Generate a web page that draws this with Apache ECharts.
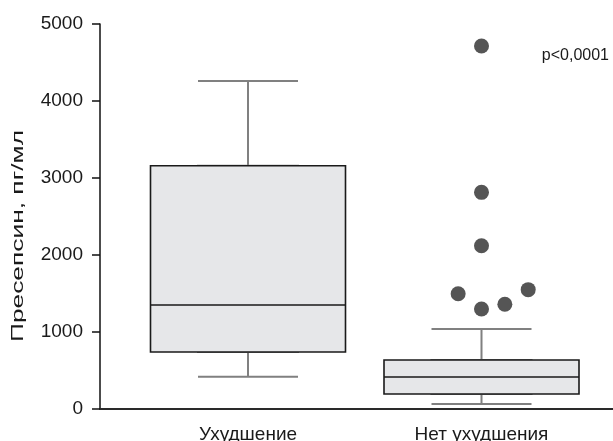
<!DOCTYPE html>
<html>
<head>
<meta charset="utf-8">
<script src="https://cdn.jsdelivr.net/npm/echarts@6/dist/echarts.min.js"></script>
<style>html,body{margin:0;padding:0;background:#fff}#c{width:613px;height:441px}</style>
</head>
<body>
<div id="c"></div>
<script>
// ---- data ----
const categories = ['Ухудшение', 'Нет ухудшения'];
// [min whisker, Q1, median, Q3, max whisker]
const boxWorse = [420, 740, 1350, 3160, 4260];
const boxNoWorse = [65, 195, 416, 636, 1040];
const outlierGroup = [1, 1, 1, 1, 1, 1, 1];
const outlierJitter = [0, 0, 0, -0.1, 0, 0.1, 0.2];
const outlierValues = [4714, 2814, 2121, 1497, 1299, 1360, 1550];
const yMin = 0, yMax = 5000, yStep = 1000;
const yAxisTitle = 'Пресепсин, пг/мл';
const pText = 'p<0,0001';

const FONT = '"Liberation Sans", Arial, Helvetica, sans-serif';
const boxStats = [boxWorse, boxNoWorse];
const boxCore = boxStats.map(b => [b[1], b[1], b[2], b[3], b[3]]);
const outliers = outlierValues.map((v, i) => [outlierGroup[i] + outlierJitter[i], v]);

const chart = echarts.init(document.getElementById('c'), null, {renderer: 'canvas'});
chart.setOption({
  animation: false,
  textStyle: {fontFamily: FONT},
  grid: [
    {left: 100, right: 0, top: 24, bottom: 32, containLabel: false, outerBoundsMode: 'none'},
    {left: 131.25, width: 467, top: 24, bottom: 32, containLabel: false, outerBoundsMode: 'none'}
  ],
  xAxis: [
    {gridIndex: 0, type: 'value', min: 0, max: 1,
     axisLine: {show: true, lineStyle: {color: '#2a2a2a', width: 2}},
     axisTick: {show: false}, axisLabel: {show: false}, splitLine: {show: false}},
    {gridIndex: 1, type: 'category', data: categories,
     axisLine: {show: false}, axisTick: {show: false}, splitLine: {show: false},
     axisLabel: {fontSize: 19, color: '#1a1a1a', margin: 16, fontFamily: FONT}},
    {gridIndex: 1, type: 'category', data: categories, show: false},
    {gridIndex: 1, type: 'value', min: -0.5, max: 1.5, show: false}
  ],
  yAxis: [
    {gridIndex: 0, type: 'value', min: yMin, max: yMax, interval: yStep,
     axisLine: {show: true, lineStyle: {color: '#111', width: 1.5}},
     axisTick: {show: true, length: 8, lineStyle: {color: '#111', width: 1.5}},
     axisLabel: {fontSize: 19, color: '#1a1a1a', margin: 17, fontFamily: FONT,
                 formatter: v => String(v)},
     splitLine: {show: false}},
    {gridIndex: 1, type: 'value', min: yMin, max: yMax, show: false}
  ],
  graphic: [
    {type: 'text', x: 18, y: 236, rotation: Math.PI / 2, scaleX: 1.55,
     style: {text: yAxisTitle, font: 'normal 17px "Liberation Sans", Arial, sans-serif', fill: '#1a1a1a',
             textAlign: 'center', textVerticalAlign: 'middle', align: 'center', verticalAlign: 'middle'}},
    {type: 'text', x: 609, y: 56,
     style: {text: pText, font: 'normal 16px "Liberation Sans", Arial, sans-serif', fill: '#1a1a1a',
             textAlign: 'right', textVerticalAlign: 'middle', align: 'right', verticalAlign: 'middle'}}
  ],
  series: [
    {type: 'boxplot', xAxisIndex: 1, yAxisIndex: 1, data: boxStats,
     boxWidth: [100, 100], z: 2,
     itemStyle: {color: '#e6e7e9', borderColor: '#808080', borderWidth: 2}},
    {type: 'boxplot', xAxisIndex: 2, yAxisIndex: 1, data: boxCore,
     boxWidth: [195, 195], z: 3,
     itemStyle: {color: '#e6e7e9', borderColor: '#1a1a1a', borderWidth: 1.6}},
    {type: 'scatter', xAxisIndex: 3, yAxisIndex: 1, data: outliers,
     symbolSize: 15, z: 4, itemStyle: {color: '#555', opacity: 1}}
  ]
});
</script>
</body>
</html>
